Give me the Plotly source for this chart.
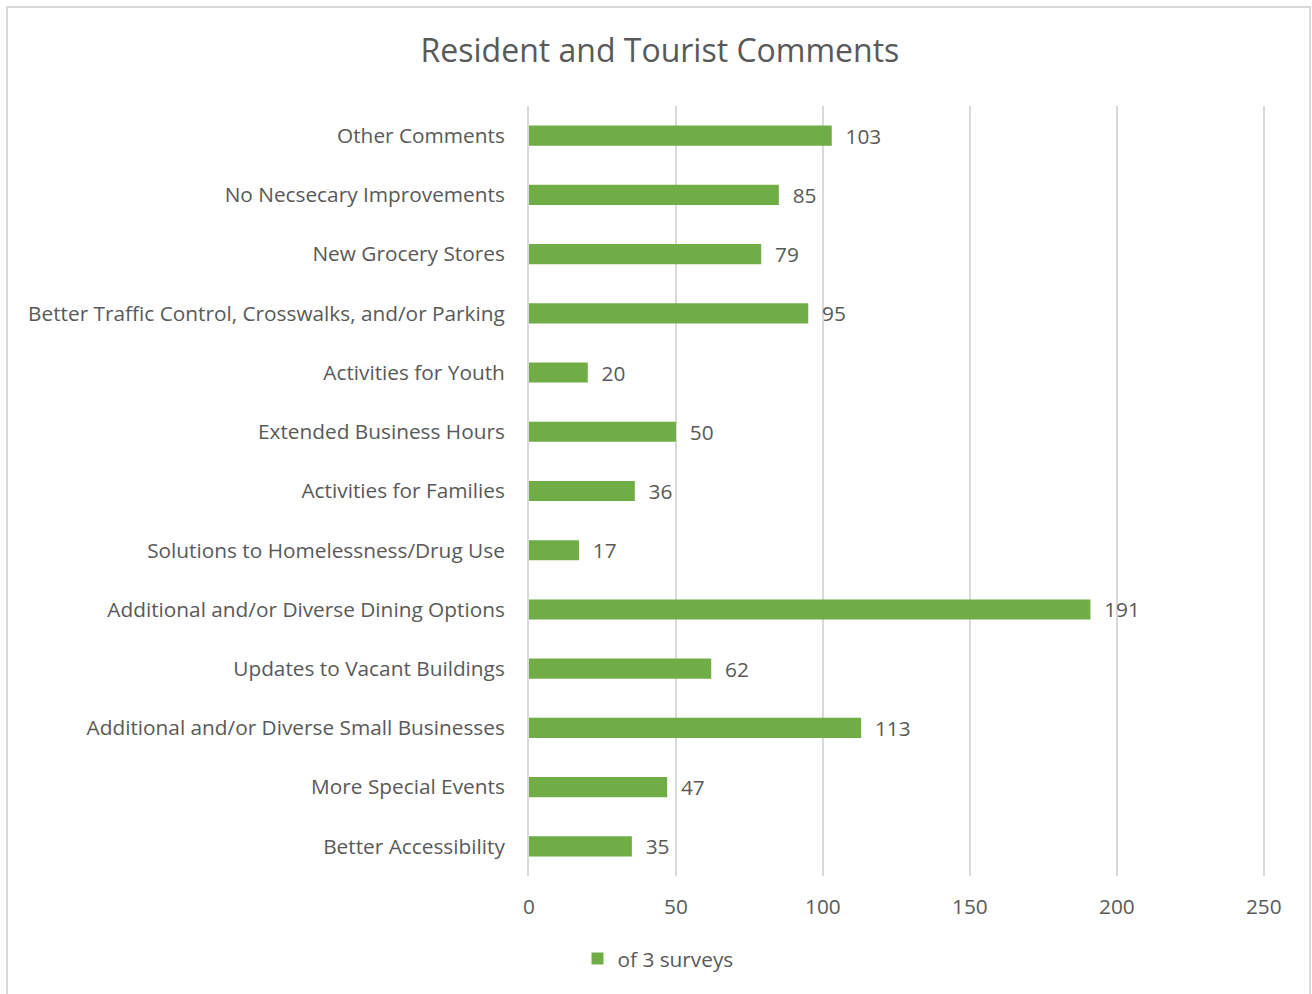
import plotly.graph_objects as go

categories = [
    "Other Comments",
    "No Necsecary Improvements",
    "New Grocery Stores",
    "Better Traffic Control, Crosswalks, and/or Parking",
    "Activities for Youth",
    "Extended Business Hours",
    "Activities for Families",
    "Solutions to Homelessness/Drug Use",
    "Additional and/or Diverse Dining Options",
    "Updates to Vacant Buildings",
    "Additional and/or Diverse Small Businesses",
    "More Special Events",
    "Better Accessibility",
]
values = [103, 85, 79, 95, 20, 50, 36, 17, 191, 62, 113, 47, 35]
series_name = "of 3 surveys"
x_ticks = [0, 50, 100, 150, 200, 250]

W, H = 1312, 994
ml, mr, mt, mb = 529, 47, 106, 118
pw, ph = W - ml - mr, H - mt - mb

FONT = "Open Sans"
TXT = "#595959"
GREEN = "#70AD47"
GRID = "#D9D9D9"
FS = 20.8

fig = go.Figure(go.Bar(
    y=categories, x=values, orientation="h", name=series_name,
    marker=dict(color=GREEN, line=dict(width=0)),
    texttemplate="\u00a0\u00a0%{x}", textposition="outside", constraintext="none",
    textfont=dict(family=FONT, size=FS, color=TXT),
    cliponaxis=False, showlegend=True,
))

def px_x(p):
    return (p - ml) / pw

def px_y(p):
    return (H - mb - p) / ph

fig.update_layout(
    width=W, height=H,
    margin=dict(l=ml, r=mr, t=mt, b=mb, autoexpand=False),
    paper_bgcolor="white", plot_bgcolor="white",
    bargap=0.66,
    font=dict(family=FONT, color=TXT, size=FS),
    title=dict(text="Resident and Tourist Comments", x=0.503, xref="container",
               y=1 - 51 / H, yref="container", yanchor="middle", xanchor="center",
               font=dict(family=FONT, size=32, color=TXT)),
    xaxis=dict(range=[0, 250.4], tickvals=x_ticks, showgrid=True, gridcolor=GRID, gridwidth=2,
               zeroline=False, showline=False, ticks="", ticklabelstandoff=16,
               tickfont=dict(family=FONT, size=FS, color=TXT), fixedrange=True),
    yaxis=dict(autorange="reversed", showgrid=False, zeroline=False, ticks="",
               showline=True, linecolor=GRID, linewidth=2, ticklabelstandoff=18,
               tickfont=dict(family=FONT, size=FS, color=TXT)),
    legend=dict(orientation="h", xref="container", yref="container",
                x=658 / W, y=1 - 959 / H, xanchor="center", yanchor="middle",
                itemwidth=30,
                font=dict(family=FONT, size=FS, color=TXT)),
    shapes=[dict(type="rect", xref="paper", yref="paper",
                 x0=px_x(7), x1=px_x(1310), y0=px_y(1010), y1=px_y(7),
                 line=dict(color=GRID, width=2), fillcolor="rgba(0,0,0,0)", layer="below")],
)

fig.write_html("out.html")
